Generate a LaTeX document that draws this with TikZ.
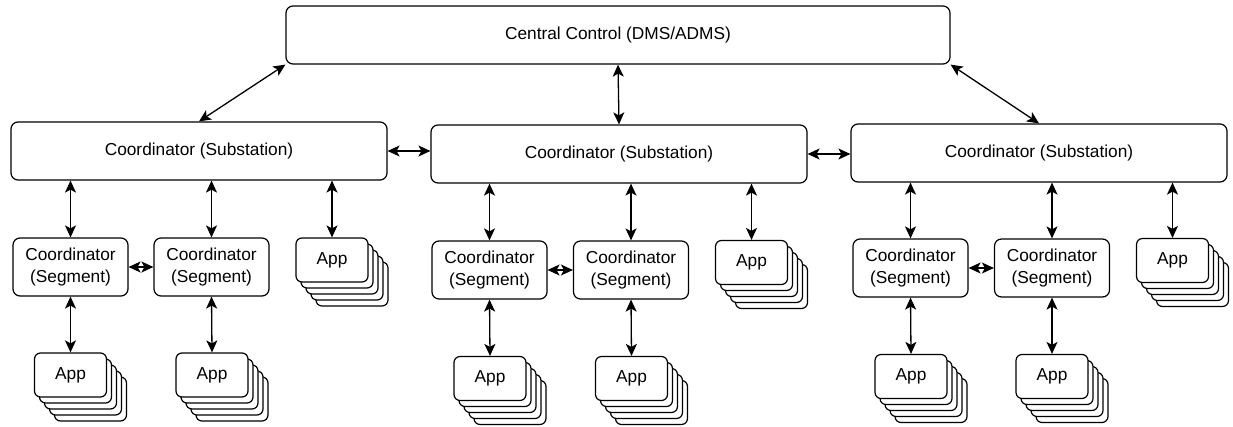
\documentclass[tikz,border=0pt]{standalone}
\usepackage{fontspec}
\setmainfont{Liberation Sans}
\usetikzlibrary{arrows.meta}

\begin{document}
\begin{tikzpicture}
        [
          x=1pt, y=-1pt,
          font=\fontsize{17.3}{21.5}\selectfont,
          box/.style={draw, line width=1.2pt, rounded corners=7pt, fill=white,
            align=center, inner sep=0pt},
          ctrl/.style={box, minimum width=664pt, minimum height=58pt},
          substation/.style={box, minimum width=376pt, minimum height=58pt},
          segment/.style={box, minimum width=115pt, minimum height=58pt},
          app/.style={box, rounded corners=6pt, minimum width=72pt, minimum height=44pt},
          link/.style={line width=1.3pt, {Stealth[length=12pt,width=11pt,inset=3pt]}-{Stealth[length=12pt,width=11pt,inset=3pt]}}
        ]
        \useasboundingbox (0,0) rectangle (1233,426);
        % central control
        \node [ctrl] (central) at (618,35) {Central Control (DMS/ADMS)};
        % substations
        \node [substation] (sub1) at (199,151) {Coordinator (Substation)};
        \node [substation] (sub2) at (619,154) {Coordinator (Substation)};
        \node [substation] (sub3) at (1039,153) {Coordinator (Substation)};
        % segments
        \node [segment] (seg1a) at (70.5,267) {Coordinator\\(Segment)};
        \node [segment] (seg1b) at (211.5,267) {Coordinator\\(Segment)};
        \node [segment] (seg2a) at (489.5,270) {Coordinator\\(Segment)};
        \node [segment] (seg2b) at (631,270) {Coordinator\\(Segment)};
        \node [segment] (seg3a) at (910.5,268) {Coordinator\\(Segment)};
        \node [segment] (seg3b) at (1052,268) {Coordinator\\(Segment)};
        % app stacks
        \foreach \n/\x/\y in {app1t/332/260, app1a/70.5/375, app1b/212/375,
                              app2t/751.5/262.5, app2a/490/378.5, app2b/631.5/378.5,
                              app3t/1172.5/260.5, app3a/911/376.5, app3b/1052/376.5} {
            \foreach \k in {4,3,2,1} {
                \node [app] at (\x+5*\k,\y+6*\k) {};
            }
            \node [app] (\n) at (\x,\y) {App};
        }
        % central links
        \draw [link] (central.south west) -- (sub1.north);
        \draw [link] (central.south) -- (sub2.north);
        \draw [link] (central.south east) -- (sub3.north);
        % substation links
        \draw [link] (sub1.east) -- (sub1.east -| sub2.west);
        \draw [link] (sub2.east) -- (sub2.east -| sub3.west);
        % substation to segment and app links
        \foreach \g in {1,2,3} {
            \draw [link] (sub\g.south -| seg\g a.north) -- (seg\g a.north);
            \draw [link] (sub\g.south -| seg\g b.north) -- (seg\g b.north);
            \draw [link] (sub\g.south -| app\g t.north) -- (app\g t.north);
            \draw [link] (seg\g a.east) -- (seg\g b.west);
            \draw [link] (seg\g a.south) -- (app\g a.north);
            \draw [link] (seg\g b.south) -- (app\g b.north);
        }
\end{tikzpicture}
\end{document}
